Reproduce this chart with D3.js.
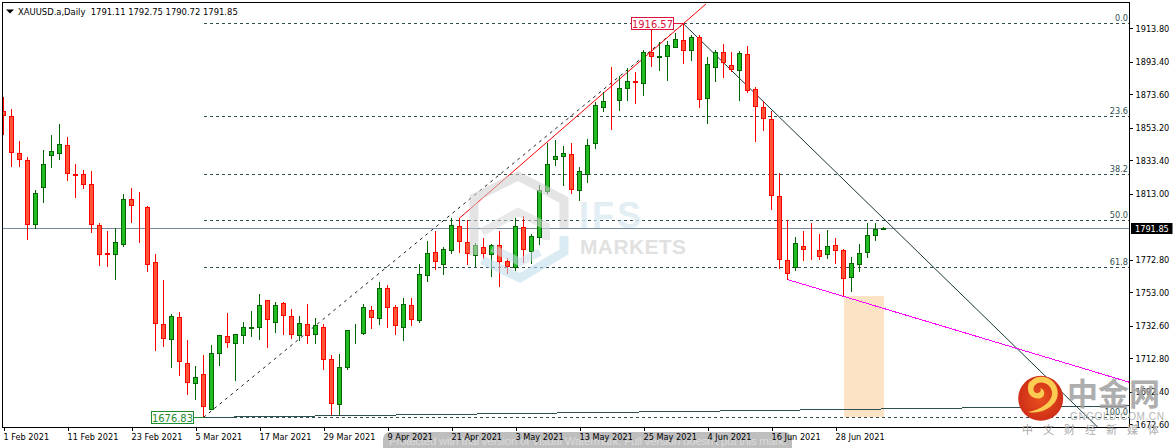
<!DOCTYPE html>
<html>
<head>
<meta charset="utf-8">
<script src="https://cdnjs.cloudflare.com/ajax/libs/d3/7.8.5/d3.min.js"></script>
<style>
  html, body { margin: 0; padding: 0; background: #fff; overflow: hidden; }
  text { font-family: "DejaVu Sans Condensed", "DejaVu Sans", sans-serif; }
</style>
</head>
<body>
<div id="chart"></div>
<script>
// daily candles, Feb - Jul 2021, one value per bar
var opens = [1863.20,1860.15,1837.60,1833.33,1794.11,1816.67,1836.18,1837.39,1842.47,1824.80,1824.80,1818.70,1793.71,1776.64,1775.83,1781.92,1809.56,1804.68,1804.68,1771.15,
  1733.36,1724.01,1737.62,1709.58,1697.19,1702.88,1681.54,1715.47,1726.04,1721.57,1726.65,1730.71,1731.32,1747.99,1734.37,1746.16,1738.23,1726.45,1733.36,1727.06,
  1731.53,1712.02,1684.39,1706.94,1728.28,1727.67,1741.89,1736.81,1755.30,1743.72,1731.32,1744.94,1735.59,1763.02,1777.25,1769.73,1778.26,1793.10,1783.34,1775.22,
  1780.30,1775.83,1781.51,1771.76,1767.90,1792.49,1777.65,1786.19,1814.23,1833.74,1835.57,1836.99,1814.84,1825.00,1843.49,1865.64,1869.50,1869.70,1877.22,1881.49,
  1880.27,1899.17,1896.12,1896.73,1902.22,1906.48,1900.39,1908.31,1871.13,1890.02,1899.17,1891.24,1888.19,1897.95,1876.61,1865.64,1858.32,1811.39,1772.37,1768.10,
  1780.91,1779.28,1778.47,1776.03,1781.51,1778.47,1762.01,1769.93,1777.25,1787.61,1791.11];
var highs = [1871.74,1864.62,1845.12,1835.36,1815.04,1839.63,1848.77,1855.48,1847.55,1831.10,1827.44,1826.83,1794.93,1790.25,1792.08,1812.81,1816.47,1814.03,1805.49,1776.23,
  1760.38,1739.66,1740.87,1723.81,1707.96,1714.66,1720.76,1726.85,1740.27,1727.87,1734.78,1741.48,1751.85,1748.19,1746.97,1746.97,1742.70,1738.44,1745.75,1737.22,
  1733.56,1714.66,1715.27,1730.31,1733.56,1745.75,1744.53,1759.16,1757.33,1745.14,1749.41,1749.41,1770.14,1784.16,1790.25,1780.50,1798.18,1798.18,1796.96,1783.34,
  1785.99,1782.73,1790.25,1773.79,1798.18,1799.40,1788.42,1818.29,1843.90,1845.73,1842.07,1843.90,1829.27,1846.34,1868.89,1874.99,1890.23,1884.74,1889.62,1887.18,
  1900.59,1913.19,1905.47,1905.87,1910.95,1916.57,1909.73,1909.73,1896.32,1900.39,1904.25,1899.37,1899.78,1903.03,1877.83,1869.50,1863.40,1825.61,1797.36,1786.59,
  1790.25,1795.13,1788.42,1790.86,1785.99,1779.28,1774.40,1782.73,1795.13,1795.13,1792.75];
var lows = [1848.77,1829.47,1829.47,1784.77,1791.47,1807.52,1828.86,1833.53,1820.73,1810.37,1815.86,1789.03,1768.92,1768.31,1760.38,1780.50,1795.13,1782.94,1765.26,1717.10,
  1719.54,1706.74,1701.86,1690.28,1687.23,1676.83,1681.13,1707.96,1718.93,1698.81,1721.37,1725.63,1723.81,1718.93,1728.07,1726.85,1724.42,1723.20,1721.37,1721.37,
  1705.52,1678.09,1678.09,1705.52,1721.37,1727.06,1730.51,1732.95,1731.12,1726.85,1723.20,1732.34,1734.17,1759.16,1766.48,1763.43,1776.23,1776.84,1769.53,1768.71,
  1773.18,1762.21,1756.11,1764.04,1765.87,1770.75,1770.14,1781.72,1812.81,1829.88,1817.68,1812.81,1808.54,1819.51,1840.24,1862.79,1851.82,1863.40,1869.50,1867.67,
  1872.55,1890.43,1887.79,1881.69,1902.22,1892.06,1893.88,1865.23,1855.48,1881.08,1883.52,1887.18,1869.50,1874.38,1844.51,1851.21,1803.05,1767.09,1760.79,1765.87,
  1771.96,1772.98,1772.57,1773.18,1770.14,1750.63,1753.07,1765.46,1773.79,1784.36,1790.72];
var closes = [1860.56,1838.00,1833.74,1794.11,1813.21,1830.89,1838.82,1843.08,1825.20,1823.98,1818.70,1794.11,1775.83,1775.83,1783.34,1809.56,1805.70,1804.48,1769.73,1733.97,
  1724.62,1738.23,1710.60,1697.80,1701.05,1683.17,1715.68,1726.65,1722.18,1727.26,1731.53,1731.53,1744.94,1736.20,1744.94,1738.64,1727.06,1733.97,1726.45,1732.75,
  1711.82,1684.99,1707.14,1729.70,1728.48,1743.72,1737.42,1755.30,1743.52,1732.54,1745.55,1736.20,1763.84,1776.64,1771.56,1779.08,1793.71,1783.75,1776.43,1781.51,
  1776.43,1781.51,1771.56,1768.71,1793.10,1778.87,1787.00,1815.04,1830.89,1835.77,1837.60,1815.45,1826.63,1842.47,1866.86,1869.30,1869.30,1877.22,1881.49,1880.88,
  1899.17,1896.53,1896.73,1903.23,1907.09,1900.39,1908.31,1870.52,1891.85,1899.17,1893.07,1888.80,1898.56,1876.00,1866.25,1858.93,1811.99,1772.98,1764.45,1782.73,
  1779.08,1778.87,1774.81,1780.91,1778.47,1761.40,1770.54,1776.64,1787.61,1791.27,1791.85];

// axis labels
var dateTicks = [0,8,16,24,32,40,48,56,64,72,80,88,96,104];
var dateLabels = ["1 Feb 2021","11 Feb 2021","23 Feb 2021","5 Mar 2021","17 Mar 2021","29 Mar 2021","9 Apr 2021","21 Apr 2021","3 May 2021","13 May 2021","25 May 2021","4 Jun 2021","16 Jun 2021","28 Jun 2021"];
var priceTicks = [1913.80,1893.40,1873.60,1853.20,1833.40,1813.00,1772.80,1753.00,1732.60,1712.80,1692.40,1672.60];

// fibonacci retracement
var fibHigh = 1916.57, fibLow = 1676.83, fibStart = 25, fibEnd = 85;
var fibLevels = [0, 23.6, 38.2, 50, 61.8, 100];
var fibNames = ["0.0","23.6","38.2","50.0","61.8","100.0"];

var lastPrice = 1791.85;

// trend lines as [bar, price] anchors
var fibDiagonal = [[25,1676.83],[85,1916.57]];
var redLine = [[57,1798.18],[87.8,1928.6]];
var downLine = [[85,1916.57],[136.8,1670.8]];
var magentaLine = [[98,1760.79],[140.75,1698.2]];
var floorLine = [[25,1676.83],[140.75,1683.8]];
var boxBars = [105,110], boxPrices = [1750.63,1676.83];

var width = 1175, height = 448;
var plot = {left: 2.5, right: 1129.5, top: 2.5, bottom: 427.5};

var x = d3.scaleLinear().domain([0, 110]).range([3.5, 883.5]);
var y = d3.scaleLinear().domain([1913.80, 1672.60]).range([28.33, 424.33]);
var snap = function (v) { return Math.floor(v) + 0.5; };

var svg = d3.select("#chart").append("svg")
  .attr("width", width).attr("height", height)
  .style("display", "block");

svg.append("clipPath").attr("id", "plotclip").append("rect")
  .attr("x", plot.left).attr("y", plot.top)
  .attr("width", plot.right - plot.left).attr("height", plot.bottom - plot.top);

var g = svg.append("g").attr("clip-path", "url(#plotclip)").attr("shape-rendering", "crispEdges");

// orange box
g.append("rect")
  .attr("x", x(boxBars[0]))
  .attr("y", y(boxPrices[0]))
  .attr("width", x(boxBars[1]) - x(boxBars[0]))
  .attr("height", y(boxPrices[1]) - y(boxPrices[0]))
  .attr("fill", "#fde3c6");

// fib levels
var fibPrice = function (l) { return fibHigh - (fibHigh - fibLow) * l / 100; };
g.selectAll(".fib").data(fibLevels).join("line")
  .attr("class", "fib")
  .attr("x1", x(fibStart)).attr("x2", plot.right)
  .attr("y1", d => snap(y(fibPrice(d)))).attr("y2", d => snap(y(fibPrice(d))))
  .attr("stroke", "#2f4f4f").attr("stroke-dasharray", "3,3");

// current price
g.append("line")
  .attr("x1", plot.left).attr("x2", plot.right)
  .attr("y1", snap(y(lastPrice))).attr("y2", snap(y(lastPrice)))
  .attr("stroke", "#778899");

function trend(pts, color, dash, sw, render) {
  g.append("line")
    .attr("x1", x(pts[0][0])).attr("y1", y(pts[0][1]))
    .attr("x2", x(pts[1][0])).attr("y2", y(pts[1][1]))
    .attr("stroke", color).attr("stroke-width", sw || 1)
    .attr("stroke-dasharray", dash || null)
    .attr("shape-rendering", render || "crispEdges");
}
trend(floorLine, "#2f4f4f");
trend(fibDiagonal, "#222", "3,4", 1, "auto");
trend(redLine, "#f00", null, 1, "auto");
trend(downLine, "#1c3838", null, 1, "auto");
trend(magentaLine, "#f0f");

// candles
var bars = d3.range(opens.length);
var isUp = i => closes[i] >= opens[i];
g.selectAll(".wick").data(bars).join("line")
  .attr("class", "wick")
  .attr("x1", i => x(i)).attr("x2", i => x(i))
  .attr("y1", i => y(highs[i])).attr("y2", i => y(lows[i]))
  .attr("stroke", i => isUp(i) ? "#006400" : "#f00");

g.selectAll(".body").data(bars).join("rect")
  .attr("class", "body")
  .attr("x", i => x(i) - 2)
  .attr("width", 4)
  .attr("y", i => snap(y(Math.max(opens[i], closes[i]))))
  .attr("height", i => Math.max(0, snap(y(Math.min(opens[i], closes[i]))) - snap(y(Math.max(opens[i], closes[i])))))
  .attr("fill", i => isUp(i) ? "#22bb22" : "#ff5533")
  .attr("stroke", i => isUp(i) ? "#006400" : "#f00");

// frame and axes
svg.append("rect")
  .attr("x", plot.left).attr("y", plot.top)
  .attr("width", plot.right - plot.left).attr("height", plot.bottom - plot.top)
  .attr("fill", "none").attr("stroke", "#000").attr("shape-rendering", "crispEdges");

var yAxis = svg.append("g")
  .attr("transform", "translate(" + plot.right + ",0)")
  .call(d3.axisRight(y).tickValues(priceTicks).tickSize(3).tickPadding(3).tickFormat(d3.format(".2f")));
yAxis.select(".domain").remove();
yAxis.selectAll("text").attr("font-size", 9.1).attr("fill", "#000").style("font-family", null);
yAxis.selectAll("line").attr("shape-rendering", "crispEdges");

var xAxis = svg.append("g")
  .attr("transform", "translate(0," + plot.bottom + ")")
  .call(d3.axisBottom(x).tickValues(dateTicks).tickSize(3).tickPadding(3).tickFormat((d, i) => dateLabels[i]));
xAxis.select(".domain").remove();
xAxis.selectAll("text").attr("font-size", 9.1).attr("fill", "#000").attr("text-anchor", "start").attr("x", -0.5).style("font-family", null);
xAxis.selectAll("line").attr("shape-rendering", "crispEdges");

// fib labels
svg.selectAll(".fibname").data(fibLevels).join("text")
  .attr("class", "fibname")
  .attr("x", 1128).attr("y", d => snap(y(fibPrice(d))) - 3)
  .attr("text-anchor", "end").attr("font-size", 9.1).attr("fill", "#2f4f4f")
  .text((d, i) => fibNames[i]);

// header
svg.append("path").attr("d", "M6,9.5h8l-4,4z").attr("fill", "#000");
svg.append("text").attr("x", 18).attr("y", 14.5).attr("font-size", 9.35).attr("fill", "#000")
  .attr("xml:space", "preserve")
  .text("XAUUSD.a,Daily  " + [opens[110], highs[110], lows[110], closes[110]].join(" "));

// last price tag
svg.append("rect").attr("x", 1131).attr("y", 223).attr("width", 41.5).attr("height", 11).attr("fill", "#000");
svg.append("text").attr("x", 1135).attr("y", 232).attr("font-size", 9.1).attr("fill", "#fff").text(lastPrice.toFixed(2));

// high / low tags
function tag(bar, price, boxX, color) {
  var py = snap(y(price));
  svg.append("line").attr("x1", boxX + 41.5).attr("x2", x(bar)).attr("y1", py).attr("y2", py)
    .attr("stroke", color).attr("shape-rendering", "crispEdges");
  svg.append("rect").attr("x", boxX).attr("y", py - 6).attr("width", 41.5).attr("height", 12)
    .attr("fill", "#fff").attr("stroke", color).attr("shape-rendering", "crispEdges");
  svg.append("text").attr("x", boxX + 21).attr("y", py + 4).attr("text-anchor", "middle")
    .attr("font-size", 11).attr("fill", color).text(price.toFixed(2));
}
tag(fibEnd, fibHigh, 631.5, "#dc143c");
tag(fibStart, fibLow, 151.5, "#1e8b2e");

// IFS MARKETS watermark
var mark = svg.append("g").attr("opacity", 0.55).attr("fill", "none").attr("stroke-width", 9);
mark.append("path").attr("d", "M474,255L474,198L518,176L564,200L564,228").attr("stroke", "#cfcfcf");
mark.append("path").attr("d", "M564,236L564,252L520,278L482,260").attr("stroke", "#bfdcea");
mark.append("path").attr("d", "M482,232L518,212L546,226L546,240").attr("stroke", "#d8d8d8").attr("stroke-width", 8);
mark.append("path").attr("d", "M492,248L520,262L540,252").attr("stroke", "#c8e0ec").attr("stroke-width", 8);
svg.append("text").attr("x", 579).attr("y", 228).attr("font-size", 36).attr("font-weight", 700)
  .attr("letter-spacing", 3).style("font-family", "'Liberation Sans'").attr("fill", "#dcebf2").attr("opacity", 0.8).text("IFS");
svg.append("text").attr("x", 580).attr("y", 254).attr("font-size", 21).attr("font-weight", 700)
  .attr("textLength", 106).style("font-family", "'Liberation Sans'").attr("fill", "#dcdcdc").attr("opacity", 0.85).text("MARKETS");

// trial version band
svg.append("rect").attr("x", 383).attr("y", 432).attr("width", 409).attr("height", 24).attr("rx", 7)
  .attr("fill", "#888").attr("opacity", 0.55);
svg.append("text").attr("x", 389).attr("y", 445).attr("font-size", 11.5).attr("textLength", 398)
  .style("font-family", "'Liberation Sans'").attr("fill", "#fff").attr("opacity", 0.45)
  .text("Protected with trial version of Visual Watermark. Full version doesn't put this mark.");
xAxis.raise();

// gngold logo
var logoGrad = svg.append("radialGradient").attr("id", "logograd");
logoGrad.append("stop").attr("offset", "0%").attr("stop-color", "#e8501f");
logoGrad.append("stop").attr("offset", "100%").attr("stop-color", "#cf2f17");
svg.append("circle").attr("cx", 1040.7).attr("cy", 398.3).attr("r", 22.5).attr("fill", "url(#logograd)");
svg.append("path")
  .attr("d", "M1028,412C1040,410 1053,402 1052,392C1051,385 1044,381 1038,383C1033,385 1032,391 1036,393C1040,394 1042,390 1040,388C1045,389 1046,396 1041,398C1035,400 1028,396 1028,389C1028,383 1029,382 1031,381C1035,376 1045,375 1051,380C1058,385 1060,395 1055,402C1049,410 1038,414 1028,412Z")
  .attr("fill", "#fbcb52");
svg.append("text").attr("x", 1067).attr("y", 405).attr("font-size", 31).attr("font-weight", 700)
  .style("font-family", "'Noto Sans CJK SC'").attr("fill", "#a0a0a0").attr("opacity", 0.85).text("中金网");
svg.append("text").attr("x", 1070).attr("y", 420).attr("font-size", 10).attr("letter-spacing", 0.6)
  .style("font-family", "'Liberation Sans'").attr("fill", "#aaa").attr("opacity", 0.85).text("GNGOLD.COM.CN");
svg.append("text").attr("x", 1022).attr("y", 434).attr("font-size", 11).attr("letter-spacing", 10)
  .style("font-family", "'Noto Sans CJK SC'").attr("fill", "#aaa").text("中文财经新媒体");
</script>
</body>
</html>
